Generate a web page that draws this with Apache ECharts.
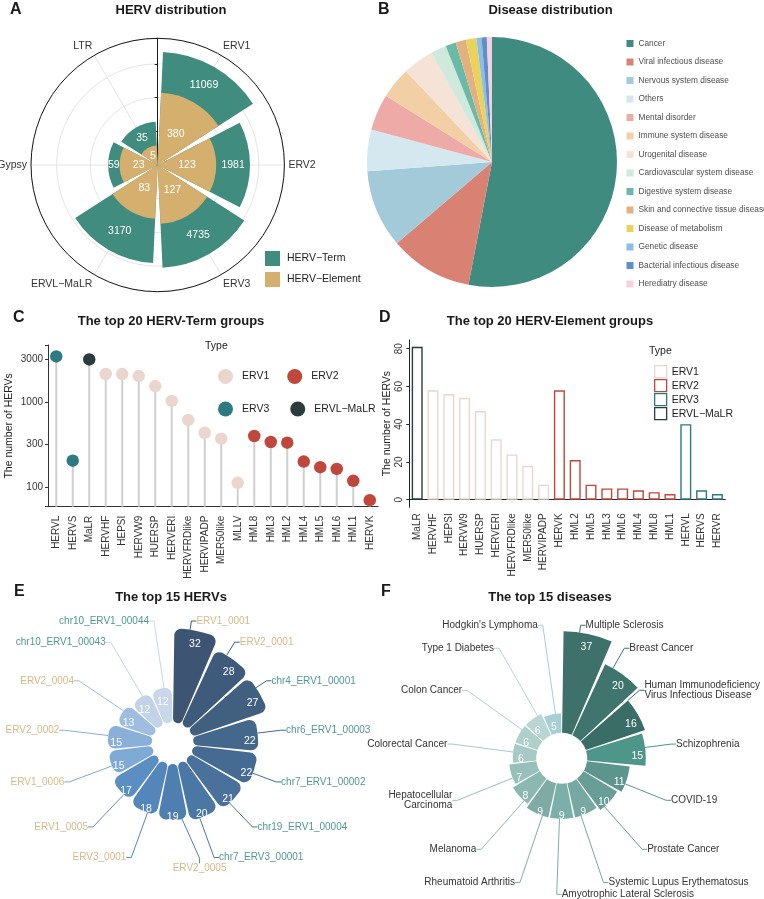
<!DOCTYPE html>
<html><head><meta charset="utf-8">
<script src="https://cdn.jsdelivr.net/npm/echarts@6/dist/echarts.min.js"></script>
<style>html,body{margin:0;padding:0;background:#fff}#c{width:764px;height:899px}</style>
</head><body><div id="c"></div>
<script>
// ---------------- DATA ----------------
// A: HERV distribution
const aCategories = ['ERV1', 'ERV2', 'ERV3', 'ERVL−MaLR', 'Gypsy', 'LTR'];
const aTerm = [11069, 1981, 4735, 3170, 59, 35];
const aElement = [380, 123, 127, 83, 23, 5];
const aSeriesNames = ['HERV−Term', 'HERV−Element'];

// B: Disease distribution
const bNames = ['Cancer', 'Viral infectious disease', 'Nervous system disease', 'Others', 'Mental disorder',
  'Immune system disease', 'Urogenital disease', 'Cardiovascular system disease', 'Digestive system disease',
  'Skin and connective tissue disease', 'Disease of metabolism', 'Genetic disease',
  'Bacterial infectious disease', 'Herediatry disease'];
const bValues = [79, 16, 15, 8, 7, 6, 6, 3, 2, 2, 2, 1, 1, 1];

// C / D: types
const typeNames = ['ERV1', 'ERV2', 'ERV3', 'ERVL−MaLR'];

// C: top 20 HERV-Term groups
const cGroups = ['HERVL', 'HERVS', 'MaLR', 'HERVHF', 'HEPSI', 'HERVW9', 'HUERSP', 'HERVERI', 'HERVFRDlike',
  'HERVIPADP', 'MER50like', 'MLLV', 'HML8', 'HML3', 'HML2', 'HML4', 'HML5', 'HML6', 'HML1', 'HERVK'];
const cTypes = ['ERV3', 'ERV3', 'ERVL−MaLR', 'ERV1', 'ERV1', 'ERV1', 'ERV1', 'ERV1', 'ERV1',
  'ERV1', 'ERV1', 'ERV1', 'ERV2', 'ERV2', 'ERV2', 'ERV2', 'ERV2', 'ERV2', 'ERV2', 'ERV2'];
const cValues = [3440, 204, 3170, 2135, 2130, 2020, 1540, 1030, 615, 435, 370, 112, 398, 338, 332, 199, 171, 163, 118, 70];
const cTickLabels = [100, 300, 1000, 3000];

// D: top 20 HERV-Element groups
const dGroups = ['MaLR', 'HERVHF', 'HEPSI', 'HERVW9', 'HUERSP', 'HERVERI', 'HERVFRDlike', 'MER50like', 'HERVIPADP',
  'HERVK', 'HML2', 'HML5', 'HML3', 'HML6', 'HML4', 'HML8', 'HML1', 'HERVL', 'HERVS', 'HERVR'];
const dTypes = ['ERVL−MaLR', 'ERV1', 'ERV1', 'ERV1', 'ERV1', 'ERV1', 'ERV1', 'ERV1', 'ERV1',
  'ERV2', 'ERV2', 'ERV2', 'ERV2', 'ERV2', 'ERV2', 'ERV2', 'ERV2', 'ERV3', 'ERV3', 'ERV3'];
const dValues = [81, 58, 56, 54, 47, 32, 24, 18, 8, 58, 21, 8, 6, 6, 5, 4, 3, 40, 5, 3];
const dTickLabels = [0, 20, 40, 60, 80];

// E: top 15 HERVs
const eNames = ['ERV1_0001', 'ERV2_0001', 'chr4_ERV1_00001', 'chr6_ERV1_00003', 'chr7_ERV1_00002',
  'chr19_ERV1_00004', 'chr7_ERV3_00001', 'ERV2_0005', 'ERV3_0001', 'ERV1_0005', 'ERV1_0006',
  'ERV2_0002', 'ERV2_0004', 'chr10_ERV1_00043', 'chr10_ERV1_00044'];
const eValues = [32, 28, 27, 22, 22, 21, 20, 19, 18, 17, 15, 15, 13, 12, 12];

// F: top 15 diseases
const fNames = ['Multiple Sclerosis', 'Breast Cancer', 'Human Immunodeficiency\nVirus Infectious Disease',
  'Schizophrenia', 'COVID-19', 'Prostate Cancer', 'Systemic Lupus Erythematosus',
  'Amyotrophic Lateral Sclerosis', 'Rheumatoid Arthritis', 'Melanoma', 'Hepatocellular\nCarcinoma',
  'Colorectal Cancer', 'Colon Cancer', 'Type 1 Diabetes', "Hodgkin's Lymphoma"];
const fValues = [37, 20, 16, 15, 11, 10, 9, 9, 9, 8, 7, 6, 6, 6, 5];

// ---------------- STYLE ----------------
const FONT = "'Liberation Sans', Arial, Helvetica, sans-serif";
const TEAL = '#408c7e', TAN = '#d4af6e';
const typeColors = {'ERV1': '#ead6cf', 'ERV2': '#c0473b', 'ERV3': '#2e7a83', 'ERVL−MaLR': '#2a3c3b'};
const bColors = ['#408b7f', '#d98274', '#a3cad8', '#d5e7ef', '#eeaaa6', '#f3cfa6', '#f5e3d7', '#cfe9dc',
  '#6bb9a7', '#e3b17f', '#ead35c', '#8fbde3', '#5e8fc6', '#f5d0de'];
const ePalette = ['#3d5573', '#3f5b7b', '#416080', '#44678c', '#466b92', '#4a719b', '#4b77a4', '#4f7fb0',
  '#5586bb', '#5b8fc4', '#80aad6', '#8ab0d9', '#9ebddf', '#c2d3e8', '#c8d7ea'];
const fPalette = ['#3d7169', '#3f756d', '#3a6d65', '#4e958a', '#5c958d', '#679e96', '#77a9a2', '#7bb0a9',
  '#7eaca5', '#8cb8b2', '#98c0bb', '#a7cac6', '#b0d0cc', '#b9d6d4', '#a5cfd5'];

function hasFont(name) {
  const c = document.createElement('canvas').getContext('2d');
  const s = 'Skin and connective tissue disease';
  c.font = '40px monospace'; const w0 = c.measureText(s).width;
  c.font = "40px '" + name + "', monospace"; return c.measureText(s).width !== w0;
}
const narrow = hasFont('Liberation Sans Narrow');
const bLegendFont = narrow ? "'Liberation Sans Narrow'" : FONT;
const bLegendSize = narrow ? 10 : 8.3;

const chart = echarts.init(document.getElementById('c'), null, {renderer: 'canvas'});

function ttl(text, x, y, size, align, weight) {
  return {text: text, left: x, top: y, padding: 0, textAlign: align, textVerticalAlign: 'middle',
    textStyle: {fontSize: size, fontWeight: weight, color: '#1a1a1a', fontFamily: FONT}};
}

function ringLayout(cx, cy, rx, ry, n) {
  return function (p) {
    const th = (p.dataIndex + 0.5) * 2 * Math.PI / n;
    const s = Math.sin(th), c = Math.cos(th);
    let x = cx + rx * s;
    const y = cy - ry * c;
    const left = s > -1e-6;
    const w = p.labelRect.width;
    if (left) x = Math.min(x, 760 - w); else x = Math.max(x, 4 + w);
    return {x: x, y: y, align: left ? 'left' : 'right', verticalAlign: 'middle'};
  };
}

const series = [];
// A: polar bars (Term behind, Element in front)
series.push({
  name: aSeriesNames[0], type: 'bar', coordinateSystem: 'polar', polarIndex: 0, z: 3,
  data: aTerm, barGap: '-100%', barCategoryGap: '9%', itemStyle: {color: TEAL},
  label: {show: true, rotate: 0, formatter: '{c}', color: '#fff', fontSize: 10.5},
  labelLayout: function (p) {
    try {
      const i = p.dataIndex;
      const pt = chart.convertToPixel({seriesIndex: 0}, [aTerm[i], i]);
      const pe = chart.convertToPixel({seriesIndex: 0}, [aElement[i], i]);
      return {x: (pt[0] + pe[0]) / 2, y: (pt[1] + pe[1]) / 2, align: 'center', verticalAlign: 'middle'};
    } catch (e) { return {}; }
  }
});
series.push({
  name: aSeriesNames[1], type: 'bar', coordinateSystem: 'polar', polarIndex: 0, z: 3,
  data: aElement, barGap: '-100%', barCategoryGap: '9%', itemStyle: {color: TAN},
  label: {show: true, position: 'middle', rotate: 0, formatter: '{c}', color: '#fff', fontSize: 10.5}
});
// B: pie
series.push({
  type: 'pie', center: [492, 162], radius: 125, startAngle: 90, clockwise: true, silent: true,
  label: {show: false}, labelLine: {show: false}, itemStyle: {borderWidth: 0},
  data: bNames.map((n, i) => ({name: n, value: bValues[i], itemStyle: {color: bColors[i]}}))
});
// C: lollipop stems + dots
series.push({
  type: 'bar', xAxisIndex: 0, yAxisIndex: 0, data: cValues, barWidth: 2, silent: true,
  itemStyle: {color: '#cfcfcf'}
});
typeNames.forEach(t => {
  series.push({
    name: t, type: 'scatter', xAxisIndex: 0, yAxisIndex: 0, symbolSize: 12.5,
    itemStyle: {color: typeColors[t], opacity: 1},
    data: cGroups.map((g, i) => cTypes[i] === t ? [g, cValues[i]] : null).filter(Boolean)
  });
});
// D: outlined bars
typeNames.forEach(t => {
  series.push({
    name: 'D:' + t, type: 'bar', xAxisIndex: 1, yAxisIndex: 1, barWidth: 11, barGap: '-100%',
    itemStyle: {color: '#ffffff', borderColor: typeColors[t], borderWidth: 1.4},
    data: dGroups.map((g, i) => dTypes[i] === t ? dValues[i] : '-')
  });
});
// E: rounded polar bars with name labels + value overlay
series.push({
  type: 'bar', coordinateSystem: 'polar', polarIndex: 1, barCategoryGap: '7%', barGap: '-100%', z: 3,
  itemStyle: {borderRadius: 7},
  data: eValues.map((v, i) => ({value: v, itemStyle: {color: ePalette[i]},
    label: {color: eNames[i].indexOf('chr') === 0 ? '#4e9a8d' : '#d9b887'}})),
  label: {show: true, rotate: 0, formatter: p => eNames[p.dataIndex], fontSize: 10, fontFamily: FONT},
  labelLine: {show: true, length2: 5, lineStyle: {width: 1}},
  labelLayout: ringLayout(172.7, 743.3, 114, 125, eNames.length)
});
series.push({
  type: 'bar', coordinateSystem: 'polar', polarIndex: 1, barCategoryGap: '7%', barGap: '-100%', z: 4,
  silent: true, data: eValues, itemStyle: {color: 'rgba(0,0,0,0)'},
  label: {show: true, position: 'insideEnd', distance: 8, rotate: 0, formatter: '{c}', color: '#fff', fontSize: 10.5}
});
// F
series.push({
  type: 'bar', coordinateSystem: 'polar', polarIndex: 2, barCategoryGap: '7%', barGap: '-100%', z: 3,
  data: fValues.map((v, i) => ({value: v, itemStyle: {color: fPalette[i]}})),
  label: {show: true, rotate: 0, formatter: p => fNames[p.dataIndex], fontSize: 10, color: '#333', fontFamily: FONT},
  labelLine: {show: true, length2: 5, lineStyle: {width: 1}},
  labelLayout: ringLayout(561.7, 758.3, 115, 136, fNames.length)
});
series.push({
  type: 'bar', coordinateSystem: 'polar', polarIndex: 2, barCategoryGap: '7%', barGap: '-100%', z: 4,
  silent: true, data: fValues, itemStyle: {color: 'rgba(0,0,0,0)'},
  label: {show: true, position: 'insideEnd', distance: 8, rotate: 0, formatter: '{c}', color: '#fff', fontSize: 10.5}
});

const option = {
  animation: false,
  backgroundColor: '#ffffff',
  textStyle: {fontFamily: FONT},
  title: [
    ttl('A', 10, 10, 16, 'left', 'bold'), ttl('B', 378, 10, 16, 'left', 'bold'),
    ttl('C', 13, 318, 16, 'left', 'bold'), ttl('D', 379, 318, 16, 'left', 'bold'),
    ttl('E', 14, 592, 16, 'left', 'bold'), ttl('F', 381, 592, 16, 'left', 'bold'),
    ttl('HERV distribution', 171, 10, 13, 'center', 'bold'),
    ttl('Disease distribution', 550.5, 10, 13, 'center', 'bold'),
    ttl('The top 20 HERV-Term groups', 171, 321, 13, 'center', 'bold'),
    ttl('The top 20 HERV-Element groups', 550, 321, 13, 'center', 'bold'),
    ttl('The top 15 HERVs', 171, 597, 13, 'center', 'bold'),
    ttl('The top 15 diseases', 550, 597, 13, 'center', 'bold'),
    ttl('Type', 205, 346, 10.5, 'left', 'normal'),
    ttl('Type', 649, 351, 10.5, 'left', 'normal')
  ],
  legend: [
    {data: aSeriesNames, orient: 'vertical', left: 260, top: 246, itemWidth: 15, itemHeight: 15, itemGap: 6,
      icon: 'rect', selectedMode: false, textStyle: {fontSize: 10.5, color: '#222', padding: [0, 0, 0, 2]}},
    {data: bNames, orient: 'vertical', left: 621.5, top: 32.5, itemWidth: 7, itemHeight: 7, itemGap: 6.5,
      icon: 'rect', selectedMode: false,
      textStyle: {fontSize: bLegendSize, fontFamily: bLegendFont, color: '#4d4d4d', lineHeight: 12}},
    {data: ['ERV1', 'ERV2'], left: 213, top: 364, itemWidth: 15, itemHeight: 15, itemGap: 18, icon: 'circle',
      selectedMode: false, textStyle: {fontSize: 10.5, color: '#222', padding: [0, 0, 0, 4]}},
    {data: ['ERV3', 'ERVL−MaLR'], left: 213, top: 396.5, itemWidth: 15, itemHeight: 15, itemGap: 21, icon: 'circle',
      selectedMode: false, textStyle: {fontSize: 10.5, color: '#222', padding: [0, 0, 0, 4]}},
    {data: typeNames.map(t => 'D:' + t), formatter: n => n.slice(2), orient: 'vertical', left: 649, top: 360,
      itemWidth: 12, itemHeight: 12, itemGap: 0.7, icon: 'rect', selectedMode: false,
      itemStyle: {borderWidth: 1.3}, textStyle: {fontSize: 10.5, color: '#222', lineHeight: 12}}
  ],
  grid: [
    {left: 48, top: 345, width: 330, height: 161.7, outerBoundsMode: 'none'},
    {left: 409.3, top: 340, width: 316, height: 167.3, outerBoundsMode: 'none'}
  ],
  xAxis: [
    {gridIndex: 0, type: 'category', data: cGroups,
      axisLine: {lineStyle: {color: '#333'}}, axisTick: {alignWithLabel: true, length: 3, lineStyle: {color: '#333'}},
      axisLabel: {rotate: 90, interval: 0, fontSize: 10, color: '#333', margin: 9}},
    {gridIndex: 1, type: 'category', data: dGroups,
      axisLine: {lineStyle: {color: '#222'}}, axisTick: {alignWithLabel: true, length: 3, lineStyle: {color: '#222'}},
      axisLabel: {rotate: 90, interval: 0, fontSize: 10, color: '#333', margin: 6}}
  ],
  yAxis: [
    {gridIndex: 0, type: 'log', logBase: Math.sqrt(10), min: 58.6, max: 4688,
      axisLine: {show: true, lineStyle: {color: '#333'}}, axisTick: {show: true, length: 3, lineStyle: {color: '#333'}},
      splitLine: {show: false},
      axisLabel: {fontSize: 10, color: '#333', margin: 5, formatter: function (v) {
        for (const t of cTickLabels) if (Math.abs(Math.log10(v / t)) < 0.05) return String(t);
        return '';
      }},
      name: 'The number of HERVs', nameLocation: 'middle', nameGap: 33, nameMoveOverlap: false,
      nameTextStyle: {fontSize: 10.5, color: '#222'}},
    {gridIndex: 1, type: 'value', min: -4, max: 84.6,
      axisLine: {show: true, lineStyle: {color: '#222'}},
      axisTick: {show: true, length: 3, lineStyle: {color: '#222'}, customValues: dTickLabels},
      splitLine: {show: false},
      axisLabel: {rotate: 90, fontSize: 10, color: '#333', margin: 5, customValues: dTickLabels},
      name: 'The number of HERVs', nameLocation: 'middle', nameGap: 17, nameMoveOverlap: false,
      nameTextStyle: {fontSize: 10.5, color: '#222'}}
  ],
  polar: [
    {center: [157.7, 165], radius: 126.7},
    {center: [172.7, 743.3], radius: [20.6, 115]},
    {center: [561.7, 758.3], radius: [25.5, 127]}
  ],
  angleAxis: [
    {polarIndex: 0, type: 'category', data: aCategories, startAngle: 90, clockwise: true, z: 1,
      axisLine: {show: true, lineStyle: {color: '#1a1a1a', width: 1}},
      axisTick: {show: false, alignWithLabel: true},
      axisLabel: {show: true, fontSize: 10.5, color: '#333', margin: 4},
      splitLine: {show: true, lineStyle: {color: '#e5e5e5', width: 1}}},
    {polarIndex: 1, type: 'category', data: eNames, startAngle: 90, clockwise: true, show: false},
    {polarIndex: 2, type: 'category', data: fNames, startAngle: 90, clockwise: true, show: false}
  ],
  radiusAxis: [
    {polarIndex: 0, type: 'log', logBase: 16, min: 1, max: 33500, startValue: 1, z: 1,
      axisLine: {show: true, lineStyle: {color: '#1a1a1a'}},
      axisTick: {show: true, length: 3, lineStyle: {color: '#1a1a1a'}},
      axisLabel: {show: false},
      splitLine: {show: true, lineStyle: {color: '#e5e5e5', width: 1}}},
    {polarIndex: 1, type: 'value', min: 0, max: 32, show: false},
    {polarIndex: 2, type: 'value', min: 0, max: 26, show: false}
  ],
  series: series
};
chart.setOption(option);
</script>
</body></html>
